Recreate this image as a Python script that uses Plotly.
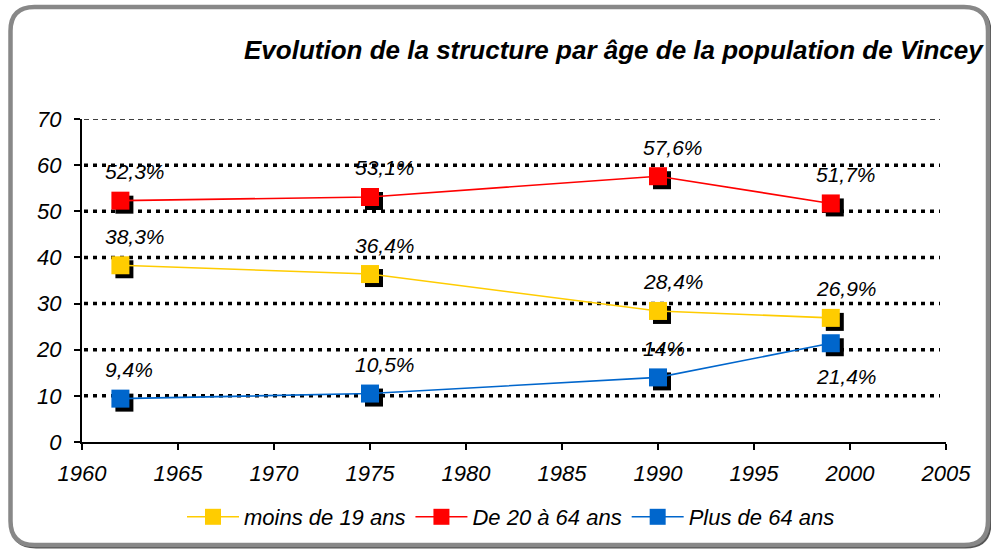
import plotly.graph_objects as go

# ---- data ----
years = [1962, 1975, 1990, 1999]
moins19 = [38.3, 36.4, 28.4, 26.9]
de20a64 = [52.3, 53.1, 57.6, 51.7]
plus64 = [9.4, 10.5, 14.0, 21.4]
labels_moins19 = ["38,3%", "36,4%", "28,4%", "26,9%"]
labels_de20a64 = ["52,3%", "53,1%", "57,6%", "51,7%"]
labels_plus64 = ["9,4%", "10,5%", "14%", "21,4%"]
pos_moins19 = ["above", "above", "above", "above"]
pos_de20a64 = ["above", "above", "above", "above"]
pos_plus64 = ["above", "above", "above", "below"]
series_names = ["moins de 19 ans", "De 20 à 64 ans", "Plus de 64 ans"]
x_ticks = [1960, 1965, 1970, 1975, 1980, 1985, 1990, 1995, 2000, 2005]
y_ticks = [0, 10, 20, 30, 40, 50, 60, 70]
title_text = "Evolution de la structure par âge de la population de Vincey"

# ---- layout geometry ----
W, H = 991, 549
L, R, T, B = 82, 45, 119, 107
PW, PH = W - L - R, H - T - B
XR = [1960, 2005]
YR = [0, 70]
FONT = "Liberation Sans, Arial, sans-serif"

def px(x):
    return (x - L) / PW

def py(y):
    return (H - B - y) / PH

def ifont(size):
    return dict(family=FONT, size=size, color="#000000", style="italic")

colors = ["#FFCC00", "#FF0000", "#0066CC"]
series = [moins19, de20a64, plus64]
labels = [labels_moins19, labels_de20a64, labels_plus64]
positions = [pos_moins19, pos_de20a64, pos_plus64]

fig = go.Figure()

# shadow markers on the (hidden, offset) base axes -> drawn beneath the main overlay
dx = 4 * (XR[1] - XR[0]) / PW
dy = 4 * (YR[1] - YR[0]) / PH
for vals in series:
    fig.add_trace(go.Scatter(x=years, y=vals, mode="markers", xaxis="x", yaxis="y",
                             marker=dict(symbol="square", size=18, color="#000000"),
                             showlegend=False, hoverinfo="skip"))

for name, vals, c in zip(series_names, series, colors):
    fig.add_trace(go.Scatter(x=years, y=vals, mode="lines+markers", name=name,
                             xaxis="x2", yaxis="y2",
                             line=dict(color=c, width=1.6),
                             marker=dict(symbol="square", size=18, color=c)))

annotations = []
for vals, labs, poss in zip(series, labels, positions):
    for x, y, t, p in zip(years, vals, labs, poss):
        annotations.append(dict(x=x, y=y, xref="x2", yref="y2", text=t, showarrow=False,
                                xanchor="left", yanchor="middle", xshift=-17,
                                yshift=29 if p == "above" else -33,
                                font=ifont(21)))

annotations.append(dict(x=px(986), y=py(50), xref="paper", yref="paper",
                        text="<b>" + title_text + "</b>",
                        showarrow=False, xanchor="right", yanchor="middle",
                        font=ifont(26)))

shapes = []
def rrect(x0, y0, x1, y1, r):
    pts = [("M", x0 + r, y0), ("L", x1 - r, y0), ("Q", x1, y0, x1, y0 + r), ("L", x1, y1 - r),
           ("Q", x1, y1, x1 - r, y1), ("L", x0 + r, y1), ("Q", x0, y1, x0, y1 - r),
           ("L", x0, y0 + r), ("Q", x0, y0, x0 + r, y0)]
    s = ""
    for p in pts:
        if p[0] == "Q":
            s += f"Q{px(p[1])},{py(p[2])} {px(p[3])},{py(p[4])} "
        else:
            s += f"{p[0]}{px(p[1])},{py(p[2])} "
    return s + "Z"

shapes.append(dict(type="path", xref="paper", yref="paper", path=rrect(12, 8.5, 989.5, 546.5, 24),
                   line=dict(color="#555555", width=4), layer="below"))
shapes.append(dict(type="path", xref="paper", yref="paper", path=rrect(10.5, 7, 988, 545, 24),
                   line=dict(color="#888888", width=4.5), fillcolor="#FFFFFF", layer="below"))

for yv in y_ticks:
    if yv == 0:
        continue
    if yv == YR[1]:
        ln = dict(color="#000000", width=1.5, dash="5px,4px")
    else:
        ln = dict(color="#000000", width=3.5, dash="4px,5px")
    shapes.append(dict(type="line", xref="paper", yref="y2", x0=px(84), x1=px(940), y0=yv, y1=yv,
                       line=ln, layer="below"))

axis_common = dict(showgrid=False, zeroline=False, showline=True, linecolor="#000000", linewidth=2,
                   ticks="outside", ticklen=6, tickwidth=2, tickcolor="#000000", fixedrange=True)

fig.update_layout(
    width=W, height=H,
    margin=dict(l=L, r=R, t=T, b=B, autoexpand=False),
    paper_bgcolor="#FFFFFF", plot_bgcolor="rgba(0,0,0,0)",
    showlegend=True,
    legend=dict(orientation="h", x=px(511), y=py(517), xanchor="center", yanchor="middle",
                font=ifont(22), bgcolor="rgba(0,0,0,0)", itemwidth=52, tracegroupgap=0),
    xaxis=dict(range=[XR[0] - dx, XR[1] - dx], visible=False, fixedrange=True),
    yaxis=dict(range=[YR[0] + dy, YR[1] + dy], visible=False, fixedrange=True),
    xaxis2=dict(range=XR, tickvals=x_ticks, overlaying="x", anchor="y2",
                tickfont=ifont(22), ticklabelstandoff=5, **axis_common),
    yaxis2=dict(range=YR, tickvals=y_ticks, overlaying="y", anchor="x2", side="left",
                tickfont=ifont(22), ticklabelstandoff=8, **axis_common),
    annotations=annotations,
    shapes=shapes,
    font=dict(family=FONT),
)

fig.write_html("out.html", config={"displayModeBar": False},
               post_script="document.body.style.margin='0';")
